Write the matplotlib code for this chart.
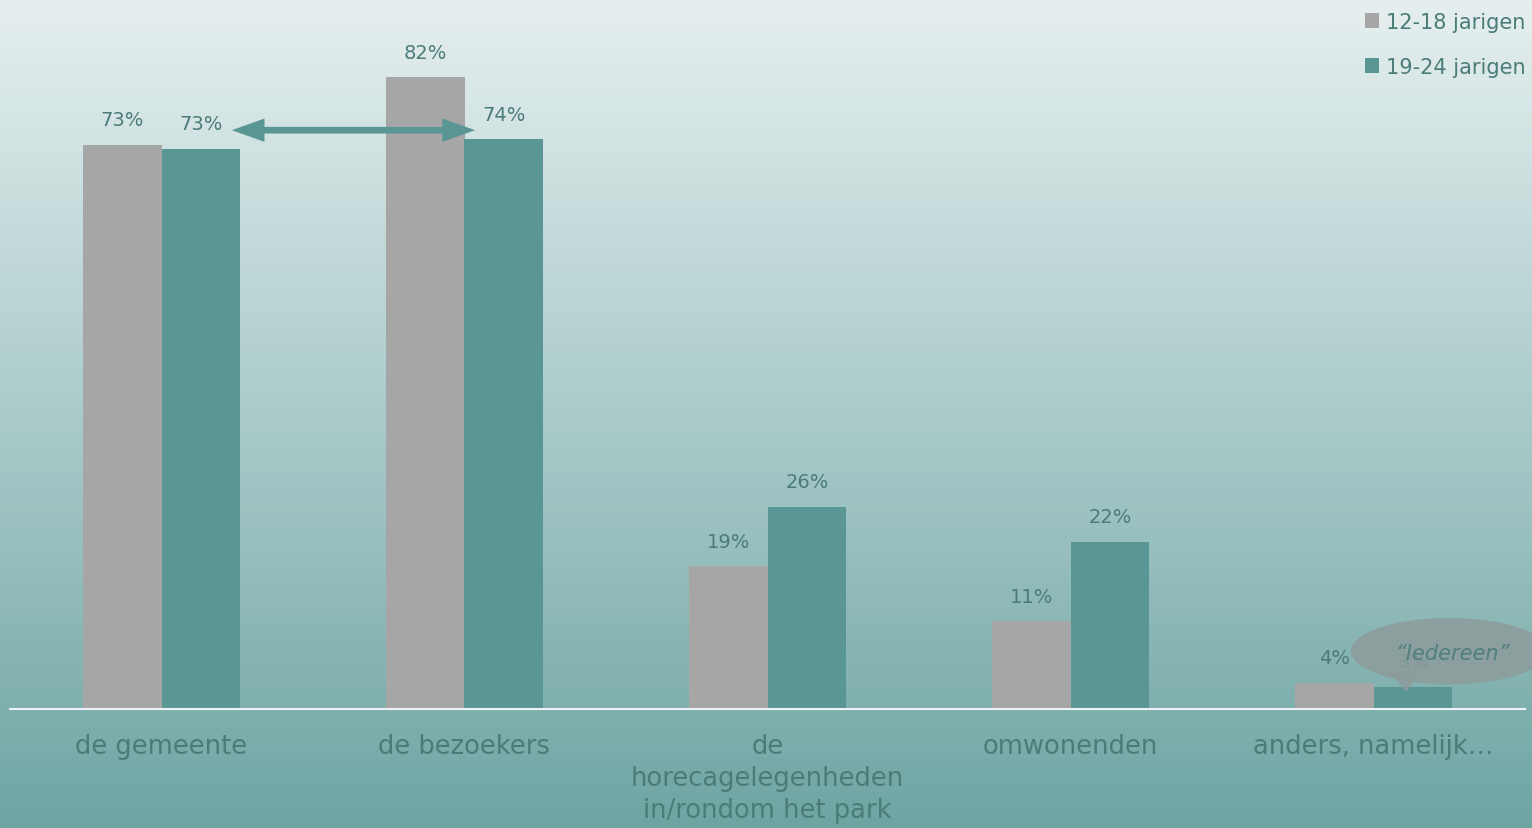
import numpy as np
import matplotlib.pyplot as plt
from matplotlib.colors import LinearSegmentedColormap
from matplotlib.patches import Ellipse, Polygon

#-----------------Data-------------

categories = ['de gemeente', 'de bezoekers', 'de\nhorecagelegenheden\nin/rondom het park',
              'omwonenden', 'anders, namelijk\u2026']
series_names = ['12-18 jarigen', '19-24 jarigen']
values_12_18 = [73.1, 81.9, 18.5, 11.4, 3.4]
values_19_24 = [72.6, 73.8, 26.2, 21.7, 2.9]
labels_12_18 = ['73%', '82%', '19%', '11%', '4%']
labels_19_24 = ['73%', '74%', '26%', '22%', '3%']

gray = '#a6a6a6'
teal = '#599694'
text_col = '#4b7c79'

#-----------------Figure + background-------------

fig = plt.figure(figsize=(15.32, 8.29), dpi=100)
bg = fig.add_axes([0, 0, 1, 1], zorder=-10)
cmap = LinearSegmentedColormap.from_list('bg', ['#e6efef', '#aacbca', '#6ea5a3'])
grad = np.linspace(0, 1, 256).reshape(-1, 1)
bg.imshow(grad, aspect='auto', cmap=cmap, extent=[0, 1, 0, 1], origin='upper')
bg.set_xlim(0, 1)
bg.set_ylim(0, 1)
bg.axis('off')

ax = fig.add_axes([10 / 1532, 119 / 829, 1515 / 1532, 710 / 829])
ax.patch.set_alpha(0)

#-----------------Bars-------------

x = np.arange(len(categories))
w = 0.26
b1 = ax.bar(x - w / 2, values_12_18, w, color=gray, label=series_names[0])
b2 = ax.bar(x + w / 2, values_19_24, w, color=teal, label=series_names[1])

for rect, lab in zip(b1, labels_12_18):
    ax.text(rect.get_x() + rect.get_width() / 2, rect.get_height() + 2.0, lab,
            ha='center', va='bottom', fontsize=14, color=text_col)
for rect, lab in zip(b2, labels_19_24):
    ax.text(rect.get_x() + rect.get_width() / 2, rect.get_height() + 2.0, lab,
            ha='center', va='bottom', fontsize=14, color=text_col)

ax.set_xlim(-0.5, 4.5)
ax.set_ylim(0, 92)
ax.set_yticks([])
ax.set_xticks(x)
ax.set_xticklabels(categories, fontsize=18.5, color=text_col, linespacing=1.3)
ax.tick_params(axis='x', length=0, pad=17)
for s in ['top', 'right', 'left']:
    ax.spines[s].set_visible(False)
ax.spines['bottom'].set_color('#eef4f4')
ax.spines['bottom'].set_linewidth(1.5)

#-----------------Arrow-------------

ax.annotate('', xy=(1.035, 75.0), xytext=(0.232, 75.0),
            arrowprops=dict(arrowstyle='<|-|>,head_length=1.4,head_width=0.5',
                            color=teal, lw=4.8, shrinkA=0, shrinkB=0,
                            joinstyle='miter', capstyle='butt'))

#-----------------Speech bubble-------------

bubble = Ellipse((4.25, 7.5), 0.65, 8.6, facecolor='#8c9c9b', alpha=0.85,
                 edgecolor='none', clip_on=False, zorder=5)
ax.add_patch(bubble)
tail = Polygon([(4.05, 4.8), (4.15, 4.8), (4.11, 2.2)], closed=True,
               facecolor='#8c9c9b', alpha=0.85, edgecolor='none', clip_on=False, zorder=5)
ax.add_patch(tail)
ax.text(4.26, 7.2, '\u201cIedereen\u201d', ha='center', va='center', fontsize=15,
        style='italic', color='#507f7c', zorder=6)

#-----------------Legend-------------

leg = ax.legend(loc='upper right', bbox_to_anchor=(1.0125, 1.008), frameon=False,
                fontsize=15, handlelength=0.7, handleheight=0.7, handletextpad=0.3,
                labelspacing=1.2, labelcolor=text_col)

fig.savefig('out.png', dpi=100)
